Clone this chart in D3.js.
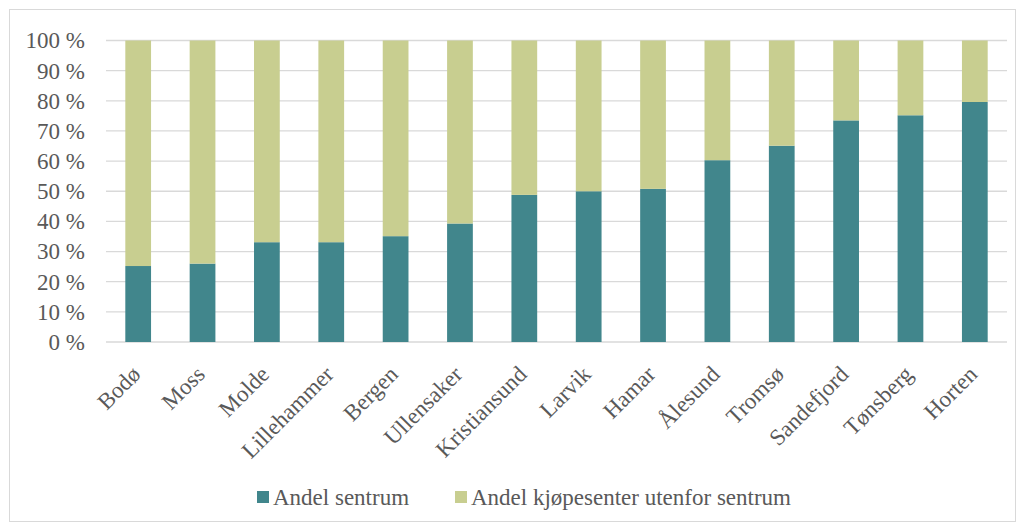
<!DOCTYPE html>
<html>
<head>
<meta charset="utf-8">
<script src="https://cdn.jsdelivr.net/npm/d3@7"></script>
<style>
  html, body { margin: 0; padding: 0; background: #fff; }
  svg { display: block; font-family: "Liberation Serif", "DejaVu Serif", serif; }
</style>
</head>
<body>
<svg id="chart" width="1022" height="526"></svg>
<script>
// Share of retail located in the city centre vs. shopping centres outside it
const cities = ["Bodø", "Moss", "Molde", "Lillehammer", "Bergen", "Ullensaker", "Kristiansund",
                "Larvik", "Hamar", "Ålesund", "Tromsø", "Sandefjord", "Tønsberg", "Horten"];
const sentrum = [25.2, 26.0, 33.1, 33.1, 35.1, 39.3, 48.8, 50.0, 50.8, 60.3, 65.1, 73.5, 75.2, 79.6];
const utenfor = sentrum.map(v => 100 - v);
const yTicks = [0, 10, 20, 30, 40, 50, 60, 70, 80, 90, 100];
const seriesNames = ["Andel sentrum", "Andel kjøpesenter utenfor sentrum"];
const seriesColors = ["#41868c", "#c8ce90"];

const svg = d3.select("#chart");
const W = 1022, H = 526;
const margin = { left: 106, right: 15, top: 40.5, bottom: 184 };
const fontSize = "23px";

// outer frame
svg.append("rect")
  .attr("x", 9.5).attr("y", 9.5)
  .attr("width", 1006).attr("height", 512)
  .attr("fill", "#fff").attr("stroke", "#d9d9d9").attr("stroke-width", 1);

const x = d3.scaleBand()
  .domain(cities)
  .range([margin.left, W - margin.right])
  .paddingInner(0.6)
  .paddingOuter(0.3);

const y = d3.scaleLinear()
  .domain([0, 100])
  .range([H - margin.bottom, margin.top]);

// gridlines
svg.append("g")
  .selectAll("line")
  .data(yTicks)
  .join("line")
  .attr("x1", margin.left).attr("x2", W - margin.right)
  .attr("y1", d => y(d)).attr("y2", d => y(d))
  .attr("stroke", "#d9d9d9").attr("stroke-width", 1.3);

// y axis labels
const yAxis = d3.axisLeft(y).tickValues(yTicks).tickSize(0).tickPadding(21)
  .tickFormat(d => d + " %");
const gy = svg.append("g").attr("transform", `translate(${margin.left},0)`).call(yAxis);
gy.select(".domain").remove();
gy.selectAll("text")
  .attr("fill", "#595959")
  .style("font-family", "Liberation Serif, serif")
  .style("font-size", fontSize);

// stacked bars
const rows = cities.map((c, i) => ({ city: c, s: sentrum[i], u: utenfor[i] }));
const stack = d3.stack().keys(["s", "u"])(rows);

svg.append("g")
  .selectAll("g")
  .data(stack)
  .join("g")
  .attr("fill", (d, i) => seriesColors[i])
  .selectAll("rect")
  .data(d => d)
  .join("rect")
  .attr("x", d => x(d.data.city))
  .attr("width", x.bandwidth())
  .attr("y", d => y(d[1]))
  .attr("height", d => y(d[0]) - y(d[1]));

// category labels, rotated
svg.append("g")
  .selectAll("text")
  .data(cities)
  .join("text")
  .attr("transform", d => `translate(${x(d) + x.bandwidth() / 2 - 2},${H - margin.bottom + 28}) rotate(-45)`)
  .attr("text-anchor", "end")
  .attr("dy", "0.35em")
  .attr("fill", "#595959")
  .style("font-size", fontSize)
  .text(d => d);

// legend
const legend = svg.append("g");
const legendItems = [
  { name: seriesNames[0], color: seriesColors[0], x: 257 },
  { name: seriesNames[1], color: seriesColors[1], x: 455 }
];
const li = legend.selectAll("g").data(legendItems).join("g")
  .attr("transform", d => `translate(${d.x},491)`);
li.append("rect").attr("width", 12).attr("height", 12).attr("fill", d => d.color);
li.append("text")
  .attr("x", 16).attr("y", 6).attr("dy", "0.35em")
  .attr("fill", "#595959")
  .style("font-size", fontSize)
  .text(d => d.name);
</script>
</body>
</html>
